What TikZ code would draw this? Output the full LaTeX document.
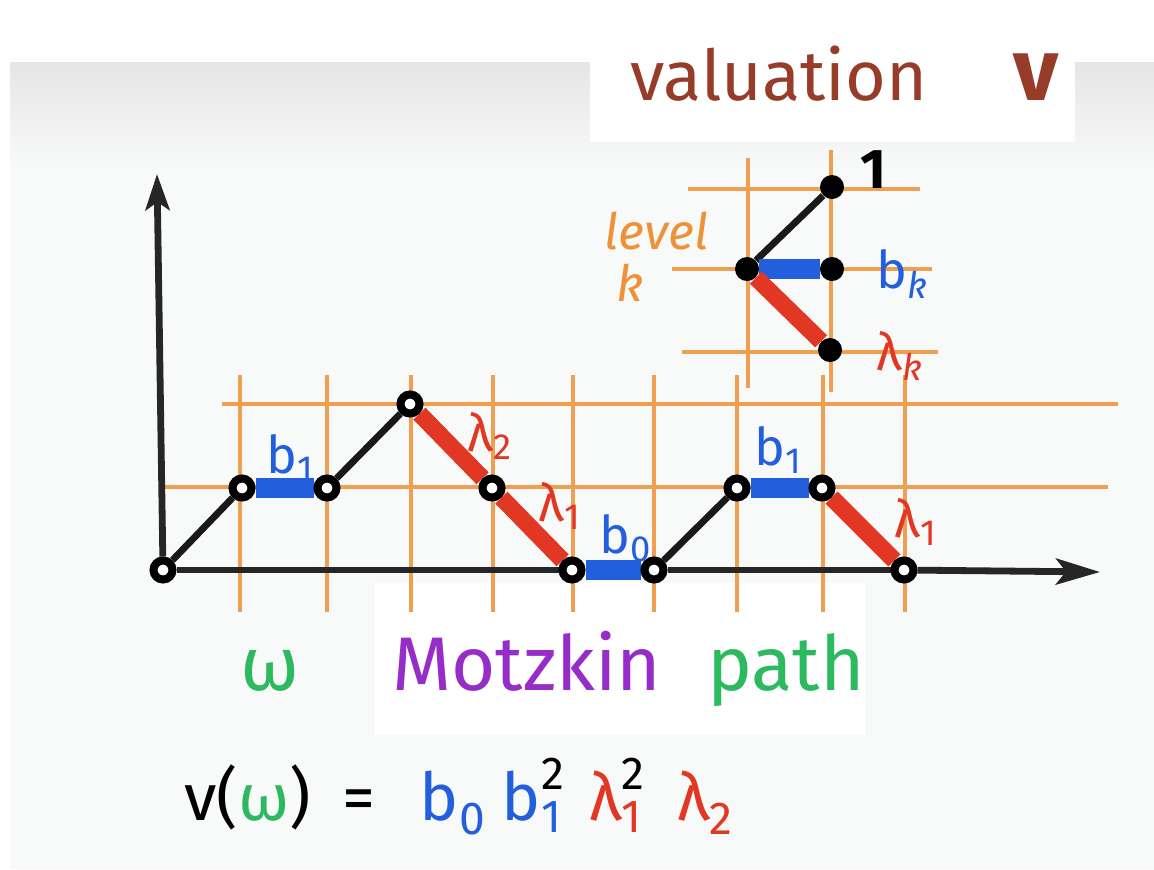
\documentclass[tikz,border=0pt]{standalone}
\usepackage{fontspec}
\usepackage{amsmath}
\setmainfont{Fira Sans}
\usetikzlibrary{arrows.meta}
\definecolor{gridc}{RGB}{240,158,80}
\definecolor{pblue}{RGB}{35,95,220}
\definecolor{pred}{RGB}{225,55,35}
\definecolor{pgreen}{RGB}{45,185,95}
\definecolor{ppurple}{RGB}{150,45,200}
\definecolor{pbrown}{RGB}{150,60,40}
\definecolor{porange}{RGB}{238,145,55}
\definecolor{paper}{RGB}{248,249,249}
\pgfdeclarelayer{back}
\pgfsetlayers{back,main}
\tikzset{
  gridline/.style={draw=gridc, line width=1.6pt},
  open/.style={circle, draw=black, fill=white, line width=4pt, inner sep=0pt, minimum size=9.5pt},
  full/.style={circle, fill=black, inner sep=0pt, minimum size=12pt},
  upstep/.style={draw=black!90, line width=3.4pt},
  flatstep/.style={draw=pblue, line width=10pt},
  downstep/.style={draw=pred, line width=8.5pt},
  axis/.style={draw=black!85, line width=3.4pt},
  lab/.style={font=\fontsize{26}{30}\selectfont, inner sep=0pt},
  big/.style={font=\fontsize{38}{44}\selectfont, inner sep=0pt},
  formula/.style={font=\fontsize{33}{40}\selectfont, inner sep=0pt},
}
\begin{document}
\begin{tikzpicture}[x=0.5pt,y=-0.5pt]
\useasboundingbox (0,0) rectangle (1154,869);
% nodes of the Motzkin path
\node[open] (n0) at (163,570) {};
\node[open] (n1) at (242,488) {};
\node[open] (n2) at (327,488) {};
\node[open] (n3) at (410,404) {};
\node[open] (n4) at (492,488) {};
\node[open] (n5) at (572,570) {};
\node[open] (n6) at (654,570) {};
\node[open] (n7) at (737,488) {};
\node[open] (n8) at (822,488) {};
\node[open] (n9) at (904,570) {};
\coordinate (xtip) at (1100,572);
\coordinate (ytip) at (157,174);
% inset nodes
\node[full] (a) at (747,269) {};
\node[full] (t) at (832,187) {};
\node[full] (m) at (832,269) {};
\node[full] (d) at (830,350) {};

\begin{pgfonlayer}{back}
  % paper
  \fill[paper] (10,62) rectangle (1154,869);
  \shade[top color=gray!20, bottom color=paper] (10,62) rectangle (1154,165);
  \fill[white] (590,8) rectangle (1075,142);
  \fill[white] (375,583) rectangle (865,735);
  % grid
  \draw[gridline] (222,404) -- (1118,404);
  \draw[gridline] (165,487) -- (1108,487);
  \foreach \gx in {240,327,411,493,573,654,737,823,905}
    \draw[gridline] (\gx,375) -- (\gx,612);
  \draw[gridline] (748,158) -- (748,388);
  \draw[gridline] (831,150) -- (831,392);
  \draw[gridline] (688,189) -- (920,189);
  \draw[gridline] (672,269) -- (932,269);
  \draw[gridline] (682,352) -- (938,352);
  % axes
  \draw[axis, -{Stealth[length=18pt,width=12pt,inset=4pt]}] (n0) -- (ytip);
  \draw[axis] (n0) -- (n5);
  \draw[axis] (n6) -- (n9);
  \draw[axis, -{Stealth[length=22pt,width=13pt,inset=5pt]}] (n9) -- (xtip);
  % steps
  \draw[upstep] (n0) -- (n1);
  \draw[flatstep] (n1) -- (n2);
  \draw[upstep] (n2) -- (n3);
  \draw[downstep] (n3) -- (n4);
  \draw[downstep] (n4) -- (n5);
  \draw[flatstep] (n5) -- (n6);
  \draw[upstep] (n6) -- (n7);
  \draw[flatstep] (n7) -- (n8);
  \draw[downstep] (n8) -- (n9);
  % inset steps
  \draw[upstep] (a) -- (t);
  \draw[flatstep] (a) -- (m);
  \draw[downstep] (a) -- (d);
\end{pgfonlayer}

% labels on the path
\node[lab, text=pblue] (l1) at (290,458) {b\textsubscript{1}};
\node[lab, text=pred] (l2) at (490,436) {λ\textsubscript{2}};
\node[lab, text=pred] (l3) at (560,506) {λ\textsubscript{1}};
\node[lab, text=pblue] (l4) at (626,538) {b\textsubscript{0}};
\node[lab, text=pblue] (l5) at (778,450) {b\textsubscript{1}};
\node[lab, text=pred] (l6) at (916,522) {λ\textsubscript{1}};
% inset labels
\node[lab, text=black, font=\fontsize{28}{30}\selectfont\bfseries] (one) at (873,170) {1};
\node[lab, text=pblue] (bk) at (902,274) {b\textsubscript{\itshape k}};
\node[lab, text=pred] (lk) at (900,356) {λ\textsubscript{\itshape k}};
\node[lab, text=porange, font=\fontsize{25}{28}\selectfont\itshape, align=left, anchor=north west] (lev) at (604,212) {level\\[-2pt]\hspace{6pt}k};
% titles
\node[text=pbrown, inner sep=0pt, font=\fontsize{35}{40}\selectfont, anchor=base west] (val) at (630,100) {valuation};
\node[text=pbrown, inner sep=0pt, font=\fontsize{44}{44}\selectfont\bfseries, anchor=base] (V) at (1036,100) {v};
\node[big, text=pgreen, anchor=base] (om) at (270,690) {ω};
\node[big, text=ppurple, anchor=base] (mz) at (527,690) {Motzkin};
\node[big, text=pgreen, anchor=base] (pa) at (786,690) {path};
% formula
\node[formula, anchor=base west] (eq) at (184,820) {v(\textcolor{pgreen}{ω})\hspace{16pt}=\hspace{22pt}\textcolor{pblue}{b\textsubscript{0}}\hspace{8pt}$\text{\color{pblue}b}^{\text{2}}_{\text{\color{pblue}1}}$\hspace{12pt}$\text{\color{pred}λ}^{\text{2}}_{\text{\color{pred}1}}$\hspace{16pt}\textcolor{pred}{λ\textsubscript{2}}};
\end{tikzpicture}
\end{document}
